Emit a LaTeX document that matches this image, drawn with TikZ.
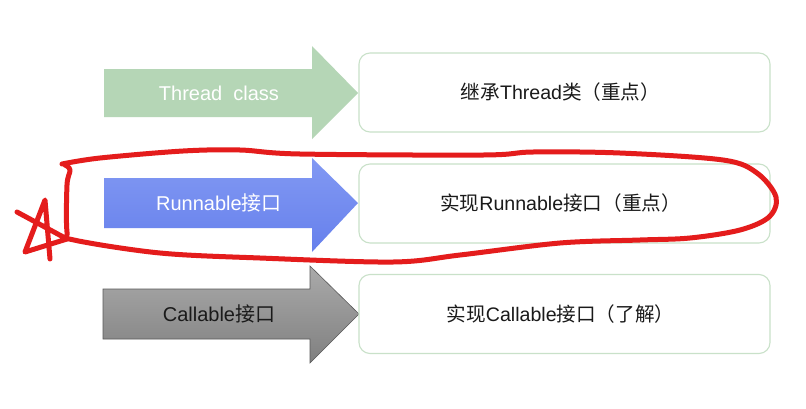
\documentclass[tikz,border=0pt]{standalone}
\usepackage{fontspec}
\setmainfont{Liberation Sans}
\newfontfamily\cjk{Noto Sans CJK SC}
\newcommand\zh[1]{{\cjk #1}}
\definecolor{arrgreen}{HTML}{B5D6B6}
\definecolor{blueTop}{HTML}{8299F3}
\definecolor{blueBot}{HTML}{6680EC}
\definecolor{grayTop}{HTML}{AAAAAA}
\definecolor{grayBot}{HTML}{808080}
\definecolor{grayEdge}{HTML}{5A5A5A}
\definecolor{boxedge}{HTML}{C9E1C9}
\definecolor{penred}{HTML}{E41C1C}
\definecolor{txt}{HTML}{1A1A1A}
\begin{document}
\begin{tikzpicture}[x=1pt,y=-1pt,
  arrowtext/.style={font=\fontsize{20}{24}\selectfont, inner sep=0pt},
  infobox/.style={draw=boxedge, line width=1.1pt, fill=white, rounded corners=11pt,
    minimum width=411pt, minimum height=79pt, text=txt, font=\fontsize{19.6}{23}\selectfont},
  pen/.style={draw=penred, line width=5pt, line cap=round, line join=round}]
\useasboundingbox (0,0) rectangle (806,408);
\fill[white] (0,0) rectangle (806,408);

% arrows
\fill[arrgreen] (104,69)--(312,69)--(312,46)--(358,93)--(312,139)--(312,117)--(104,117)--cycle;
\shade[top color=blueTop, bottom color=blueBot] (104,178)--(312,178)--(312,158)--(358,203)--(312,252)--(312,228)--(104,228)--cycle;
\shade[top color=grayTop, bottom color=grayBot, draw=grayEdge, line width=0.6pt] (103,289)--(310,289)--(310,266)--(359,314)--(310,363)--(310,339)--(103,339)--cycle;

\node[arrowtext, text=white] (t1) at (219,93) {Thread\ \ class};
\node[arrowtext, text=white] (t2) at (219,203) {Runnable\zh{接口}};
\node[arrowtext, text=txt] (t3) at (219,314) {Callable\zh{接口}};

% boxes
\node[infobox] (b1) at (564.5,92.5) {\zh{继承}Thread\zh{类（重点）}\hspace*{8pt}};
\node[infobox] (b2) at (564.5,203.5) {\zh{实现}Runnable\zh{接口（重点）}\hspace*{8pt}};
\node[infobox] (b3) at (564.5,314) {\zh{实现}Callable\zh{接口（了解）}\hspace*{8pt}};

% red freehand loop
\draw[pen] plot[smooth, tension=0.55] coordinates {
  (62,164) (100,158) (183,151) (240,150) (300,154) (483,155) (533,152) (620,153)
  (723,160) (757,173) (776,197) (769,217) (740,230) (690,238) (640,240) (560,243)
  (460,255) (393,262) (260,258) (160,253) (74,240) (67,232) (67,185) (70,170) (65,165)};
% star
\draw[pen] (17,212) -- (67,239) -- (25,252) -- (45,200) -- (50,259);
\end{tikzpicture}
\end{document}
